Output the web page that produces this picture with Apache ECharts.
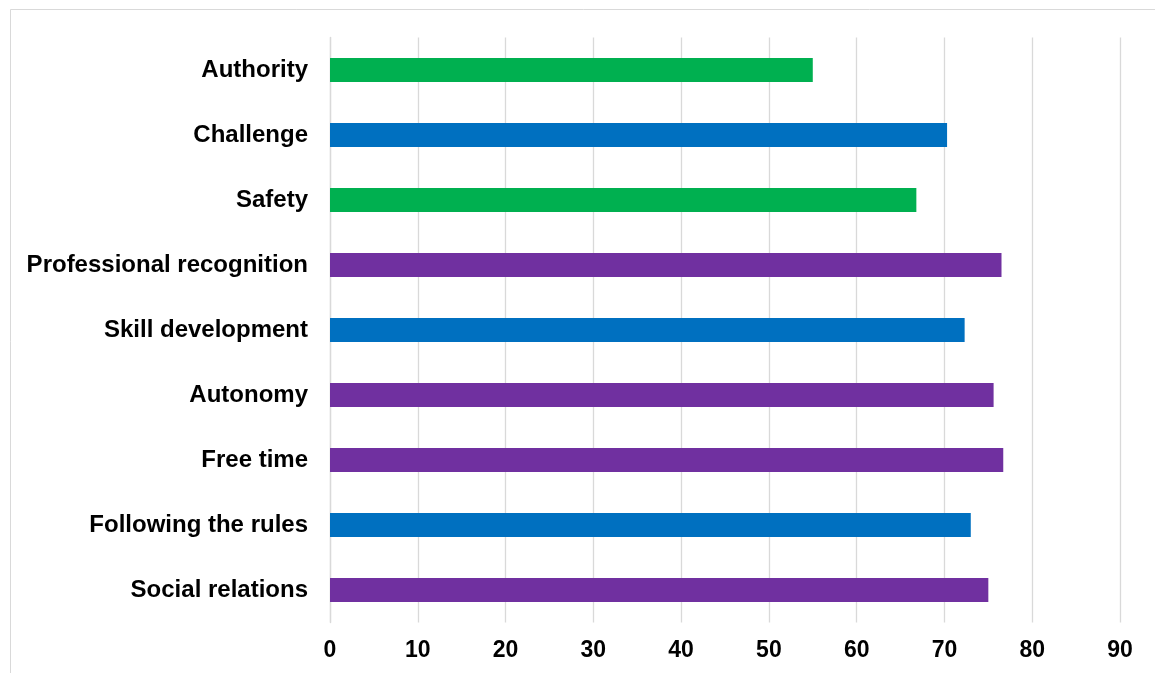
<!DOCTYPE html>
<html>
<head>
<meta charset="utf-8">
<script src="https://cdn.jsdelivr.net/npm/echarts@6/dist/echarts.min.js"></script>
<style>
  html, body { margin: 0; padding: 0; background: #fff; }
  #chart { width: 1155px; height: 673px; }
</style>
</head>
<body>
<div id="chart"></div>
<script>
// Work values, listed top to bottom
const categories = [
  'Authority', 'Challenge', 'Safety', 'Professional recognition',
  'Skill development', 'Autonomy', 'Free time', 'Following the rules',
  'Social relations'
];
const values = [55.0, 70.3, 66.8, 76.5, 72.3, 75.6, 76.7, 73.0, 75.0];
// Group each value belongs to
const groups = ['g1', 'g2', 'g1', 'g3', 'g2', 'g3', 'g3', 'g2', 'g3'];
const xTicks = [0, 10, 20, 30, 40, 50, 60, 70, 80, 90];

const groupColors = { g1: '#00b050', g2: '#0070c0', g3: '#7030a0' };
const font = '"Liberation Sans", Arial, sans-serif';

const chart = echarts.init(document.getElementById('chart'));
chart.setOption({
  animation: false,
  backgroundColor: '#fff',
  graphic: [{
    type: 'rect',
    shape: { x: 10.5, y: 9.5, width: 1200, height: 700 },
    style: { fill: 'none', stroke: '#d9d9d9', lineWidth: 1 },
    silent: true
  }],
  grid: { left: 330, right: 35, top: 37.5, bottom: 50.5 },
  xAxis: {
    type: 'value',
    min: xTicks[0],
    max: xTicks[xTicks.length - 1],
    interval: xTicks[1] - xTicks[0],
    axisLine: { show: false },
    axisTick: { show: false },
    splitLine: { show: true, lineStyle: { color: '#d9d9d9', width: 1.3 } },
    axisLabel: {
      color: '#000', fontWeight: 'bold', fontSize: 23, fontFamily: font, margin: 17
    }
  },
  yAxis: {
    type: 'category',
    inverse: true,
    data: categories,
    axisLine: { show: true, lineStyle: { color: '#d9d9d9', width: 1.3 } },
    axisTick: { show: false },
    axisLabel: {
      color: '#000', fontWeight: 'bold', fontSize: 24, fontFamily: font, margin: 22,
      padding: [4, 0, 0, 0]
    }
  },
  series: [{
    type: 'bar',
    barWidth: 24,
    data: values.map((v, i) => ({ value: v, itemStyle: { color: groupColors[groups[i]] } }))
  }]
});
</script>
</body>
</html>
